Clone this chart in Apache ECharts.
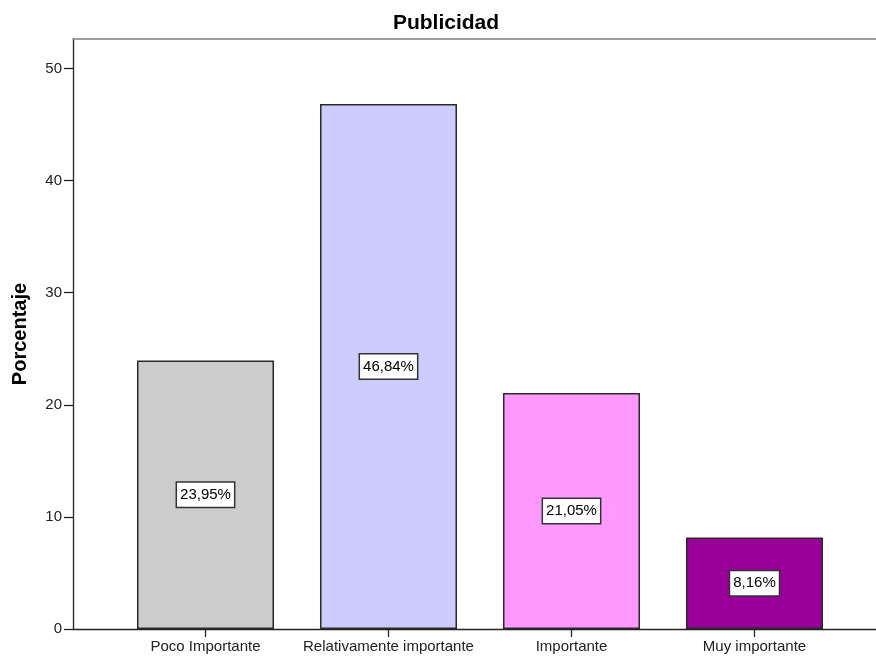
<!DOCTYPE html>
<html>
<head>
<meta charset="utf-8">
<script src="https://cdn.jsdelivr.net/npm/echarts@6/dist/echarts.min.js"></script>
<style>
  html, body { margin: 0; padding: 0; background: #fff; }
  #chart { width: 876px; height: 659px; }
</style>
</head>
<body>
<div id="chart"></div>
<script>
// Categories and percentages
const categories = ['Poco Importante', 'Relativamente importante', 'Importante', 'Muy importante'];
const percentages = [23.95, 46.84, 21.05, 8.16];
const barColors = ['#CCCCCC', '#CCCCFF', '#FF99FF', '#990099'];
const yTicks = [0, 10, 20, 30, 40, 50];

const positions = categories.map((_, i) => i);
const fmtPct = v => v.toFixed(2).replace('.', ',') + '%';
const X_MIN = -0.724, X_MAX = 3.664;

const chart = echarts.init(document.getElementById('chart'), null, { renderer: 'canvas' });

chart.setOption({
  animation: false,
  backgroundColor: '#ffffff',
  textStyle: { fontFamily: 'Liberation Sans, Arial, sans-serif' },
  title: {
    text: 'Publicidad',
    left: 441,
    top: 8,
    textAlign: 'center',
    textStyle: { fontSize: 21, fontWeight: 'bold', color: '#000', fontFamily: 'Liberation Sans, Arial, sans-serif' }
  },
  grid: { left: 73, right: 0, top: 39, bottom: 30 },
  xAxis: [{
    type: 'value',
    min: X_MIN,
    max: X_MAX,
    splitLine: { show: false },
    axisLine: { show: true, onZero: false, lineStyle: { color: '#222', width: 1.3 } },
    axisTick: { show: true, customValues: positions, length: 8, lineStyle: { color: '#222', width: 1.3 } },
    axisLabel: {
      customValues: positions,
      formatter: v => categories[Math.round(v)],
      fontSize: 15, color: '#222', margin: 10,
      fontFamily: 'Liberation Sans, Arial, sans-serif'
    }
  }, {
    // top frame line
    type: 'value',
    position: 'top',
    min: X_MIN,
    max: X_MAX,
    splitLine: { show: false },
    axisLine: { show: true, onZero: false, lineStyle: { color: '#808080', width: 1.5 } },
    axisTick: { show: false },
    axisLabel: { show: false }
  }],
  yAxis: {
    type: 'value',
    min: 0,
    max: 52.63,
    name: 'Porcentaje',
    nameLocation: 'middle',
    nameGap: 43,
    nameRotate: 90,
    nameTextStyle: { fontSize: 20, fontWeight: 'bold', color: '#000', fontFamily: 'Liberation Sans, Arial, sans-serif' },
    splitLine: { show: false },
    axisLine: { show: true, onZero: false, lineStyle: { color: '#222', width: 1.3 } },
    axisTick: { show: true, customValues: yTicks, length: 9, lineStyle: { color: '#222', width: 1.3 } },
    axisLabel: {
      customValues: yTicks,
      fontSize: 15, color: '#222', margin: 11,
      fontFamily: 'Liberation Sans, Arial, sans-serif'
    }
  },
  series: [{
    type: 'bar',
    xAxisIndex: 0,
    barWidth: 137,
    data: percentages.map((v, i) => ({
      value: [i, v],
      itemStyle: { color: barColors[i], borderColor: '#2a2a2a', borderWidth: 1.5 }
    })),
    label: {
      show: true,
      position: 'inside',
      formatter: p => fmtPct(p.value[1]),
      fontSize: 15,
      color: '#000',
      backgroundColor: '#fff',
      borderColor: '#333',
      borderWidth: 1.5,
      padding: [5, 3, 4, 3],
      fontFamily: 'Liberation Sans, Arial, sans-serif'
    }
  }]
});
</script>
</body>
</html>
